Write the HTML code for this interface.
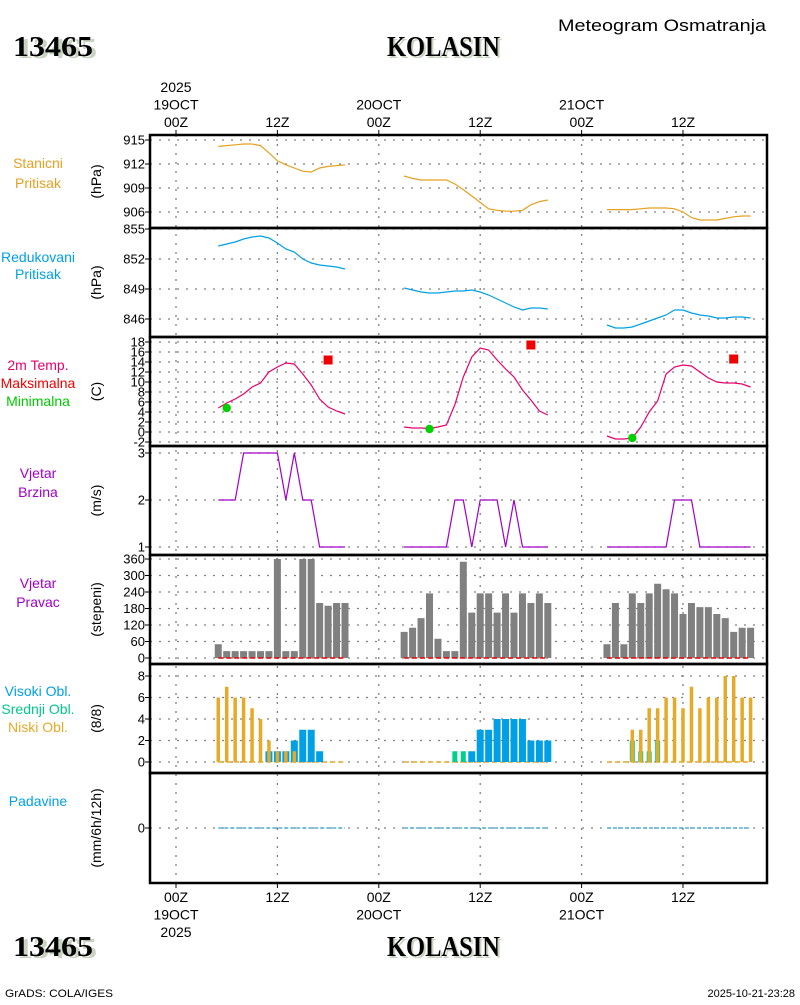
<!DOCTYPE html>
<html><head><meta charset="utf-8">
<style>
html,body{margin:0;padding:0;background:#fff;}
svg text{font-family:"Liberation Sans",sans-serif;}
.t{font-size:14px;fill:#000;}
.ttl{font-family:"Liberation Serif",serif;font-weight:bold;font-size:28px;}
</style></head>
<body>
<svg id="c" width="800" height="1000" viewBox="0 0 800 1000" xmlns="http://www.w3.org/2000/svg">
<g>
<text x="558" y="31" style="font-size:17px" textLength="208" lengthAdjust="spacingAndGlyphs">Meteogram Osmatranja</text>
<text x="15" y="56" class="ttl" fill="#c8d4c0" textLength="80" lengthAdjust="spacingAndGlyphs" transform="translate(2,2)">13465</text>
<text x="13" y="56" class="ttl" textLength="80" lengthAdjust="spacingAndGlyphs">13465</text>
<text x="387" y="56" class="ttl" fill="#c8d4c0" textLength="113" lengthAdjust="spacingAndGlyphs" transform="translate(2,2)">KOLASIN</text>
<text x="387" y="56" class="ttl" textLength="113" lengthAdjust="spacingAndGlyphs">KOLASIN</text>
<text x="15" y="956" class="ttl" fill="#c8d4c0" textLength="80" lengthAdjust="spacingAndGlyphs" transform="translate(2,2)">13465</text>
<text x="13" y="956" class="ttl" textLength="80" lengthAdjust="spacingAndGlyphs">13465</text>
<text x="387" y="956" class="ttl" fill="#c8d4c0" textLength="113" lengthAdjust="spacingAndGlyphs" transform="translate(2,2)">KOLASIN</text>
<text x="387" y="956" class="ttl" textLength="113" lengthAdjust="spacingAndGlyphs">KOLASIN</text>
<text x="5" y="997" style="font-size:11px" textLength="108" lengthAdjust="spacingAndGlyphs">GrADS: COLA/IGES</text>
<text x="795" y="997" text-anchor="end" style="font-size:11px">2025-10-21-23:28</text>
</g>
<g id="grid"></g>
<g id="marks"></g>
<g id="frame"></g>
<g id="labels"></g>
</svg>
<script>
// time axis ticks (hours from 19OCT 00Z)
const tickHours=[0,12,24,36,48,60];
const topLabels=[["2025","19OCT","00Z"],["12Z"],["20OCT","00Z"],["12Z"],["21OCT","00Z"],["12Z"]];
const botLabels=[["00Z","19OCT","2025"],["12Z"],["00Z","20OCT"],["12Z"],["00Z","21OCT"],["12Z"]];
// observation hours per day segment
const hours1=[5,6,7,8,9,10,11,12,13,14,15,16,17,18,19,20];
const hours2=[27,28,29,30,31,32,33,34,35,36,37,38,39,40,41,42,43,44];
const hours3=[51,52,53,54,55,56,57,58,59,60,61,62,63,64,65,66,67,68];
// station pressure
const pst1=[914.2,914.3,914.4,914.5,914.5,914.3,913.4,912.4,911.9,911.5,911.1,911.0,911.5,911.7,911.8,911.9];
const pst2=[910.5,910.2,910.0,910.0,910.0,910.0,909.5,908.8,908.0,907.2,906.4,906.2,906.1,906.1,906.2,906.9,907.3,907.5];
const pst3=[906.3,906.3,906.3,906.3,906.4,906.5,906.5,906.5,906.4,906.0,905.3,905.0,905.0,905.0,905.2,905.4,905.5,905.5];
// reduced pressure
const pred1=[853.3,853.5,853.7,854.0,854.2,854.3,854.1,853.6,853.0,852.7,852.0,851.6,851.4,851.3,851.2,851.0];
const pred2=[849.1,848.9,848.7,848.6,848.6,848.7,848.8,848.8,848.9,848.7,848.4,848.0,847.6,847.2,846.9,847.1,847.1,847.0];
const pred3=[845.4,845.1,845.1,845.2,845.5,845.8,846.1,846.4,846.9,846.9,846.6,846.4,846.3,846.1,846.1,846.2,846.2,846.1];
// 2m temperature
const temp1=[4.8,5.8,6.6,7.6,9.0,9.8,12.0,13.0,13.8,13.6,11.6,9.4,6.6,5.0,4.2,3.6];
const temp2=[1.0,0.8,0.8,0.7,1.0,1.4,5.5,11.0,15.0,16.8,16.4,14.4,12.6,11.0,8.4,6.4,4.2,3.4];
const temp3=[-0.8,-1.4,-1.4,-1.2,1.0,4.0,6.2,11.6,13.0,13.4,13.2,12.0,10.8,10.0,9.8,9.8,9.6,9.0];
// max/min
const tmaxHours=[18,42,66];
const tmaxVals=[14.4,17.4,14.6];
const tminHours=[6,30,54];
const tminVals=[4.8,0.6,-1.2];
// wind speed
const ws1=[2,2,2,3,3,3,3,3,2,3,2,2,1,1,1,1];
const ws2=[1,1,1,1,1,1,2,2,1,2,2,2,1,2,1,1,1,1];
const ws3=[1,1,1,1,1,1,1,1,2,2,2,1,1,1,1,1,1,1];
// wind direction
const wd1=[50,25,25,25,25,25,25,360,25,25,360,360,200,190,200,200];
const wd2=[95,110,145,235,70,25,25,350,165,235,235,165,235,165,235,200,235,200];
const wd3=[50,200,50,235,200,235,270,250,235,160,200,185,185,160,145,95,110,110];
// clouds (oktas)
const low1=[6,7,6,6,5,4,2,1,1,1,0,0,0,0,0,0];
const mid1=[0,0,0,0,0,0,0,0,0,0,0,0,0,0,0,0];
const high1=[0,0,0,0,0,0,1,1,1,2,3,3,1,0,0,0];
const low2=[0,0,0,0,0,0,0,0,0,0,0,0,0,0,0,0,0,0];
const mid2=[0,0,0,0,0,0,1,1,0,0,0,0,0,0,0,0,0,0];
const high2=[0,0,0,0,0,0,0,0,1,3,3,4,4,4,4,2,2,2];
const low3=[0,0,0,3,3,5,5,6,6,5,7,5,6,6,8,8,6,6];
const mid3=[0,0,0,2,1,1,2,0,0,0,0,0,0,0,0,0,0,0];
const high3=[0,0,0,0,0,0,0,0,0,0,0,0,0,0,0,0,0,0];
// precipitation
const pr1=[0,0,0,0,0,0,0,0,0,0,0,0,0,0,0,0];
const pr2=[0,0,0,0,0,0,0,0,0,0,0,0,0,0,0,0,0,0];
const pr3=[0,0,0,0,0,0,0,0,0,0,0,0,0,0,0,0,0,0];

const NS='http://www.w3.org/2000/svg';
const L=150,R=767;
function X(h){return 176+h*(683-176)/60;}
function lin(v0,y0,v1,y1){return v=>y0+(v-v0)*(y1-y0)/(v1-v0);}
function mk(tag,attrs,parent){const e=document.createElementNS(NS,tag);for(const k in attrs)e.setAttribute(k,attrs[k]);parent.appendChild(e);return e;}
const G=document.getElementById('grid'),M=document.getElementById('marks'),F=document.getElementById('frame'),T=document.getElementById('labels');

const panels=[
 {top:135,bot:228,y:lin(915,140,906,212),ticks:[915,912,909,906],unit:"(hPa)",name:"station-pressure",
  lab:[["Stanicni","#e6a020"],["Pritisak","#e6a020"]],ly:[168,188]},
 {top:228,bot:337,y:lin(855,229,846,319),ticks:[855,852,849,846],unit:"(hPa)",name:"reduced-pressure",
  lab:[["Redukovani","#00a0e6"],["Pritisak","#00a0e6"]],ly:[262,279]},
 {top:337,bot:446,y:lin(18,342,-2,442),ticks:[18,16,14,12,10,8,6,4,2,0,-2],unit:"(C)",name:"temperature",
  lab:[["2m Temp.","#e6006e"],["Maksimalna","#f00000"],["Minimalna","#00c800"]],ly:[370,388,406]},
 {top:446,bot:555,y:lin(3,453,1,547),ticks:[3,2,1],unit:"(m/s)",name:"wind-speed",
  lab:[["Vjetar","#a000c8"],["Brzina","#a000c8"]],ly:[478,497]},
 {top:555,bot:664,y:lin(0,658,360,559),ticks:[0,60,120,180,240,300,360],unit:"(stepeni)",name:"wind-direction",
  lab:[["Vjetar","#a000c8"],["Pravac","#a000c8"]],ly:[588,607]},
 {top:664,bot:773,y:lin(0,762,8,676),ticks:[0,2,4,6,8],unit:"(8/8)",name:"cloud-cover",
  lab:[["Visoki Obl.","#00a0e6"],["Srednji Obl.","#00c88c"],["Niski Obl.","#e6aa28"]],ly:[696,714,732]},
 {top:773,bot:883,y:lin(0,828,1,818),ticks:[0],unit:"(mm/6h/12h)",name:"precipitation",
  lab:[["Padavine","#00a0e6"]],ly:[806]}
];

panels.forEach(p=>{
  p.ticks.forEach(v=>{
    const y=p.y(v);
    const gl=mk('line',{x1:L,x2:R,y1:y,y2:y,stroke:'#808080','stroke-width':1.3,'stroke-dasharray':'2,7'},G);
    
    
    const tk=mk('line',{x1:L-5,x2:L,y1:y,y2:y,stroke:'#000','stroke-width':1},F);
    
    
    const tx=mk('text',{x:L-5,y:y+4.5,'text-anchor':'end',class:'t',style:'font-size:13px'},T);
    tx.textContent=String(v);
    
    
  });
  const my=(p.top+p.bot)/2;
  const u=mk('text',{x:0,y:0,'text-anchor':'middle',class:'t',transform:`translate(101,${my}) rotate(-90)`},T);
  u.textContent=p.unit;
  
  
  p.lab.forEach((l,i)=>{
    const t=mk('text',{x:38,y:p.ly[i],'text-anchor':'middle',fill:l[1],style:'font-size:14px'},T);
    t.textContent=l[0];
    
    
  });
  const b=mk('rect',{x:L,y:p.top,width:R-L,height:p.bot-p.top,fill:'none',stroke:'#000','stroke-width':2.5},F);
  
  
});
tickHours.forEach((h,i)=>{
  const x=X(h);
  const vl=mk('line',{x1:x,x2:x,y1:135,y2:883,stroke:'#808080','stroke-width':1.3,'stroke-dasharray':'2,7'},G);
  
  
  const t1=mk('line',{x1:x,x2:x,y1:130,y2:135,stroke:'#000'},F);
  
  
  const t2=mk('line',{x1:x,x2:x,y1:883,y2:888,stroke:'#000'},F);
  
  
  const tl=topLabels[i];
  tl.forEach((s,j)=>{
    const t=mk('text',{x:x,y:127-(tl.length-1-j)*17.5,'text-anchor':'middle',class:'t'},T);
    t.textContent=s;
    
    
  });
  botLabels[i].forEach((s,j)=>{
    const t=mk('text',{x:x,y:902+j*17.5,'text-anchor':'middle',class:'t'},T);
    t.textContent=s;
    
    
  });
});

const segHours=[hours1,hours2,hours3];
function line(hs,vals,p,color,name,dash){
  const pts=hs.map((h,i)=>X(h).toFixed(1)+','+p.y(vals[i]).toFixed(1)).join(' ');
  const a={points:pts,fill:'none',stroke:color,'stroke-width':1.2};
  if(dash)a['stroke-dasharray']=dash;
  const e=mk('polyline',a,M);
  
  
}
function bars(hs,vals,p,color,w,name){
  hs.forEach((h,i)=>{
    if(vals[i]<=0)return;
    const y0=p.y(0),y1=p.y(vals[i]);
    const r=mk('rect',{x:X(h)-w/2,y:y1,width:w,height:y0-y1,fill:color},M);
    
    
  });
}
function base(hs,p,color,name){
  const y=p.y(0);
  const e=mk('line',{x1:X(hs[0]),x2:X(hs[hs.length-1]),y1:y,y2:y,stroke:color,'stroke-width':1.5,'stroke-dasharray':'5,3'},M);
  
  
}
[pst1,pst2,pst3].forEach((v,i)=>line(segHours[i],v,panels[0],'#e6a020','station-pressure-line'));
[pred1,pred2,pred3].forEach((v,i)=>line(segHours[i],v,panels[1],'#00a0e6','reduced-pressure-line'));
[temp1,temp2,temp3].forEach((v,i)=>line(segHours[i],v,panels[2],'#e6006e','temperature-line'));
tmaxHours.forEach((h,i)=>{
  const r=mk('rect',{x:X(h)-4.5,y:panels[2].y(tmaxVals[i])-4.5,width:9,height:9,fill:'#f00000'},M);
  
  
});
tminHours.forEach((h,i)=>{
  const c=mk('circle',{cx:X(h),cy:panels[2].y(tminVals[i]),r:4.2,fill:'#00d200'},M);
  
  
});
[ws1,ws2,ws3].forEach((v,i)=>line(segHours[i],v,panels[3],'#a000c8','wind-speed-line'));
[wd1,wd2,wd3].forEach((v,i)=>{bars(segHours[i],v,panels[4],'#808080',7,'wind-direction-bar');base(segHours[i],panels[4],'#f00000','wind-direction-zero');});
[[low1,mid1,high1],[low2,mid2,high2],[low3,mid3,high3]].forEach((s,i)=>{
  base(segHours[i],panels[5],'#e6aa28','cloud-baseline');
  bars(segHours[i],s[2],panels[5],'#00a0e6',7,'high-cloud-bar');
  bars(segHours[i],s[1],panels[5],'#00d08c',5,'mid-cloud-bar');
  bars(segHours[i],s[0],panels[5],'#e6aa28',3.5,'low-cloud-bar');
});
[pr1,pr2,pr3].forEach((v,i)=>line(segHours[i],v,panels[6],'#30a0d0','precipitation-line','4,2'));
</script>
</body></html>
